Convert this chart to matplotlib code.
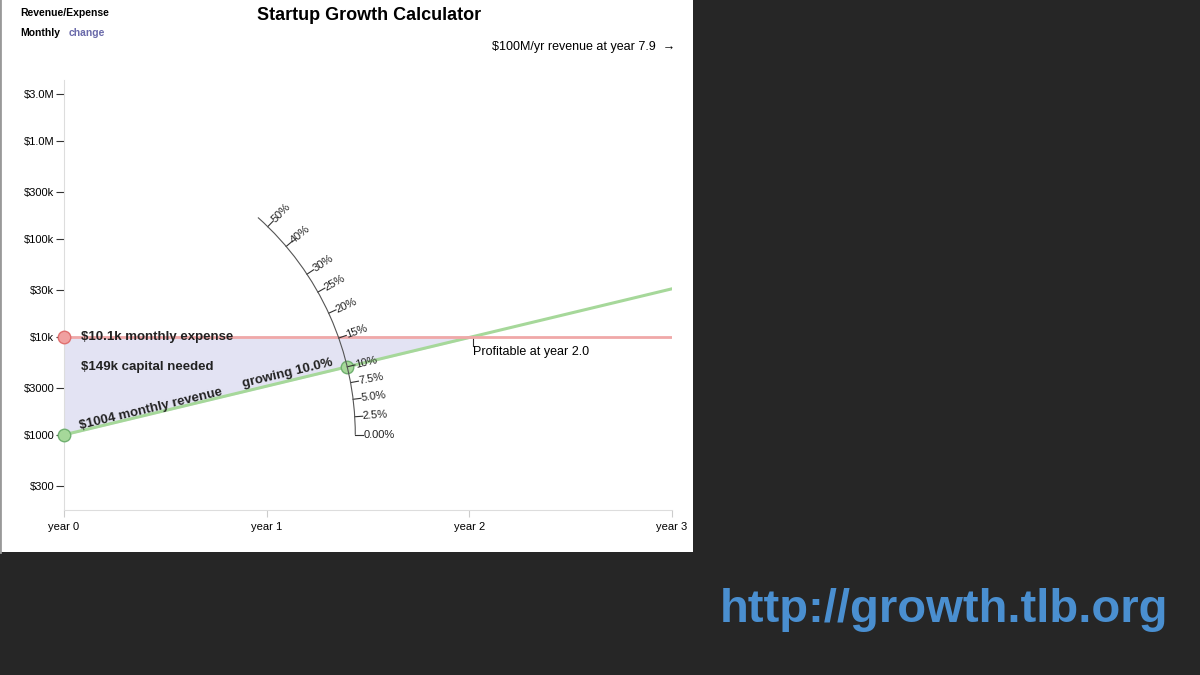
import numpy as np
import matplotlib
matplotlib.use('Agg')
import matplotlib.pyplot as plt
from matplotlib.patches import Rectangle, Arc
from matplotlib.lines import Line2D

plt.rcParams['font.family'] = ['Liberation Sans', 'DejaVu Sans']

# data
start_revenue = 1004.0
monthly_expense = 10100.0
growth = 0.10
capital_needed = '$149k'
dial_month = 16.77
months = np.arange(0, 37)
year_ticks = [0, 12, 24, 36]
year_labels = ['year 0', 'year 1', 'year 2', 'year 3']
y_ticks = [300, 1000, 3000, 1e4, 3e4, 1e5, 3e5, 1e6, 3e6]
y_labels = ['$300', '$1000', '$3000', '$10k', '$30k', '$100k', '$300k', '$1.0M', '$3.0M']
dial_rates = [0.0, 0.025, 0.05, 0.075, 0.10, 0.15, 0.20, 0.25, 0.30, 0.40, 0.50]
dial_labels = ['0.00%', '2.5%', '5.0%', '7.5%', '10%', '15%', '20%', '25%', '30%', '40%', '50%']

W, H = 1200, 675
fig = plt.figure(figsize=(12, 6.75), dpi=100)
fig.patch.set_facecolor('#262626')
fig.patches.append(Rectangle((0, 123 / H), 693 / W, 552 / H, transform=fig.transFigure,
                             facecolor='white', edgecolor='none', zorder=-5))
fig.lines.append(Line2D([0, 0], [123 / H, 1], transform=fig.transFigure,
                        color='#999999', lw=2, zorder=-4))

ax = fig.add_axes([64 / W, (H - 510) / H, 608 / W, 430 / H])
ax.set_zorder(2)
ax.set_facecolor('none')
ax.set_yscale('log')
ax.set_xlim(0, 36)
ax.set_ylim(10 ** (3 - 75 / 98), 10 ** (3 + 355 / 98))
for s in ['top', 'right']:
    ax.spines[s].set_visible(False)
ax.spines['left'].set_color('#dddddd')
ax.spines['bottom'].set_color('#dddddd')
ax.set_yticks(y_ticks)
ax.set_yticklabels(y_labels)
ax.yaxis.set_minor_locator(matplotlib.ticker.NullLocator())
ax.tick_params(axis='y', length=6, color='#333333', labelsize=8, pad=1)
ax.set_xticks(year_ticks)
ax.set_xticklabels(year_labels)
ax.tick_params(axis='x', length=5, color='#cccccc', labelsize=8)

revenue = start_revenue * (1 + growth) ** months
cross = np.log(monthly_expense / start_revenue) / np.log(1 + growth)
ax.plot(months, revenue, color='#a6d89a', lw=2.2, zorder=3)
ax.axhline(monthly_expense, color='#f0a8a8', lw=2, zorder=3)
fm = np.linspace(0, cross, 100)
ax.fill_between(fm, start_revenue * (1 + growth) ** fm, monthly_expense,
                color='#e3e3f3', zorder=1)

ax.plot(0, monthly_expense, 'o', ms=9, color='#f0a0a0', mec='#e07070', zorder=5, clip_on=False)
ax.plot(0, start_revenue, 'o', ms=9, color='#a6d89a', mec='#70b070', zorder=5, clip_on=False)
dial_val = start_revenue * (1 + growth) ** dial_month
ax.plot(dial_month, dial_val, 'o', ms=9, color='#a6d89a', mec='#70b070', zorder=5)

# slope angle in pixels
p0 = ax.transData.transform((0, start_revenue))
def angle(r):
    p1 = ax.transData.transform((1, start_revenue * (1 + r)))
    return np.degrees(np.arctan2(p1[1] - p0[1], p1[0] - p0[0]))

R = np.hypot(*(ax.transData.transform((dial_month, dial_val)) - p0))
fig.patches.append(Arc(p0, 2 * R, 2 * R, theta1=0, theta2=angle(0.56), transform=None,
                       color='#555555', lw=0.8, zorder=4))
for r, lab in zip(dial_rates, dial_labels):
    a = np.radians(angle(r))
    x0, y0 = p0 + R * np.array([np.cos(a), np.sin(a)])
    x1, y1 = p0 + (R + 8) * np.array([np.cos(a), np.sin(a)])
    fig.lines.append(Line2D([x0, x1], [y0, y1], transform=None, color='#333333', lw=0.8))
    fig.text(x1 / W, y1 / H, lab, fontsize=8, rotation=np.degrees(a), rotation_mode='anchor',
             ha='left', va='center', color='#222222')

ga = angle(growth)
ax.text(1, monthly_expense, '$10.1k monthly expense', fontsize=9.5, fontweight='bold',
        va='center', color='#222222', zorder=6)
ax.text(1, 5000, capital_needed + ' capital needed', fontsize=9.5, fontweight='bold',
        va='center', color='#222222', zorder=6)
ax.text(1, start_revenue * 1.08, '$1004 monthly revenue', fontsize=9.5, fontweight='bold',
        rotation=ga, rotation_mode='anchor', va='bottom', color='#222222', zorder=6)
ax.text(dial_month - 0.8, dial_val * 0.97, 'growing 10.0%', fontsize=9.5, fontweight='bold',
        rotation=ga, rotation_mode='anchor', ha='right', va='bottom', color='#222222', zorder=6)
ax.plot([cross, cross], [monthly_expense, 8000], color='#333333', lw=0.8)
ax.text(cross, 7000, 'Profitable at year %.1f' % (cross / 12), fontsize=9, va='center')

fig.text(675 / W, (H - 47) / H, '$100M/yr revenue at year 7.9  \u2192', fontsize=9,
         ha='right', va='center')
fig.text(369 / W, (H - 15) / H, 'Startup Growth Calculator', fontsize=13, fontweight='bold',
         ha='center', va='center')
fig.text(20 / W, (H - 13) / H, 'Revenue/Expense', fontsize=7.5, fontweight='bold', va='center')
fig.text(20 / W, (H - 33) / H, 'Monthly', fontsize=7.5, fontweight='bold', va='center')
fig.text(69 / W, (H - 33) / H, 'change', fontsize=7.5, fontweight='bold', va='center',
         color='#6a6aaa')
fig.text(1168 / W, (H - 610) / H, 'http://growth.tlb.org', fontsize=34, fontweight='bold',
         ha='right', va='center', color='#4a8fd0')

fig.savefig('out.png', dpi=100)
